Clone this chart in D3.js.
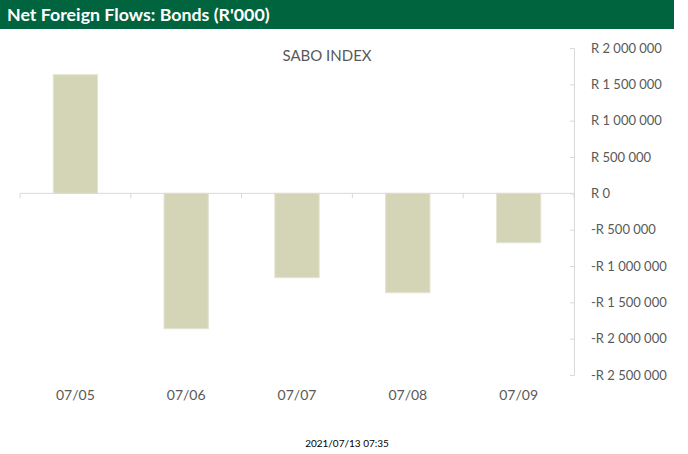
<!DOCTYPE html>
<html>
<head>
<meta charset="utf-8">
<script src="https://cdn.jsdelivr.net/npm/d3@7"></script>
<style>
  html, body { margin: 0; padding: 0; background: #fff; }
  svg { display: block; }
</style>
</head>
<body>
<svg id="chart" width="688" height="454"></svg>
<script>
const categories = ["07/05", "07/06", "07/07", "07/08", "07/09"];
const values = [1632000, -1863000, -1161000, -1368000, -680000];
const tickValues = [2000000, 1500000, 1000000, 500000, 0, -500000, -1000000, -1500000, -2000000, -2500000];
const headerTitle = "Net Foreign Flows: Bonds (R'000)";
const chartTitle = "SABO INDEX";
const timestamp = "2021/07/13 07:35";

const svg = d3.select("#chart");
const font = "Lato, 'Open Sans', sans-serif";

// header band
svg.append("rect").attr("x", 0).attr("y", 0).attr("width", 674).attr("height", 29).attr("fill", "#00643f");
svg.append("text").attr("x", 7).attr("y", 21).attr("fill", "#fff")
  .attr("font-family", font).attr("font-weight", "bold").attr("font-size", 17.8)
  .text(headerTitle);

const plot = { left: 20, right: 574, top: 48, bottom: 375 };

const xCat = d3.scaleBand().domain(categories).range([plot.left, plot.right]);
const y = d3.scaleLinear().domain([-2500000, 2000000]).range([plot.bottom, plot.top]);

// chart title
svg.append("text").attr("x", 327).attr("y", 61).attr("text-anchor", "middle")
  .attr("fill", "#595959").attr("font-family", font).attr("font-size", 15).text(chartTitle);

// bars
svg.append("g").selectAll("rect").data(values).join("rect")
  .attr("x", (d, i) => xCat(categories[i]) + xCat.bandwidth() * 0.3)
  .attr("width", xCat.bandwidth() * 0.4)
  .attr("y", d => y(Math.max(0, d)))
  .attr("height", d => Math.abs(y(d) - y(0)))
  .attr("fill", "#d4d4b7")
  .attr("stroke", "#e4e4d2").attr("stroke-width", 1);

// zero line with category ticks
const fmt = v => {
  const s = d3.format(",")(Math.abs(v)).replace(/,/g, " ");
  return (v < 0 ? "-R " : "R ") + s;
};
svg.append("line").attr("x1", plot.left).attr("x2", plot.right).attr("y1", y(0)).attr("y2", y(0))
  .attr("stroke", "#d9d9d9").attr("stroke-width", 1);
svg.append("g").selectAll("line").data(categories.concat(["__end"])).join("line")
  .attr("x1", (d, i) => plot.left + i * xCat.step()).attr("x2", (d, i) => plot.left + i * xCat.step())
  .attr("y1", y(0)).attr("y2", y(0) + 5).attr("stroke", "#d9d9d9");

// category labels
svg.append("g").selectAll("text").data(categories).join("text")
  .attr("x", d => xCat(d) + xCat.bandwidth() / 2)
  .attr("y", 400).attr("text-anchor", "middle")
  .attr("fill", "#595959").attr("font-family", font).attr("font-size", 14)
  .text(d => d);

// right axis
const yAxis = d3.axisRight(y).tickValues(tickValues).tickSize(0).tickPadding(17).tickFormat(fmt);
const ga = svg.append("g").attr("transform", `translate(${plot.right},0)`).call(yAxis);
ga.select(".domain").attr("stroke", "#d9d9d9");
ga.selectAll(".tick line").attr("x1", -4).attr("x2", 0).attr("stroke", "#d9d9d9");
ga.selectAll(".tick text").attr("fill", "#595959").attr("font-family", font).attr("font-size", 13);

// timestamp
svg.append("text").attr("x", 347).attr("y", 447).attr("text-anchor", "middle")
  .attr("fill", "#000").attr("font-family", font).attr("font-size", 10).text(timestamp);
</script>
</body>
</html>
